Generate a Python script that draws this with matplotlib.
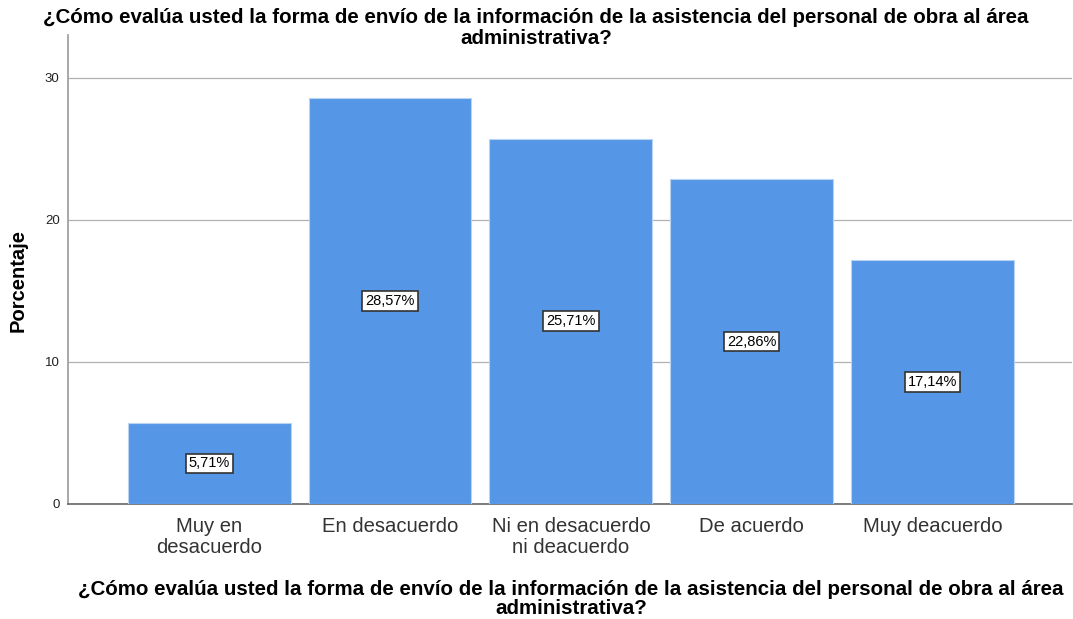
import matplotlib
matplotlib.use("Agg")
import matplotlib.pyplot as plt

categorias = ["Muy en\ndesacuerdo", "En desacuerdo", "Ni en desacuerdo\nni deacuerdo",
              "De acuerdo", "Muy deacuerdo"]
porcentajes = [5.71, 28.57, 25.71, 22.86, 17.14]
etiquetas = ["5,71%", "28,57%", "25,71%", "22,86%", "17,14%"]
y_ticks = [0, 10, 20, 30]

titulo = ("¿Cómo evalúa usted la forma de envío de la información de la asistencia "
          "del personal de obra al área\nadministrativa?")

plt.rcParams['font.family'] = ['Liberation Sans', 'DejaVu Sans']

fig = plt.figure(figsize=(10.73, 6.19), dpi=100)
ax = fig.add_axes([68 / 1073, 1 - 504 / 619, 1004 / 1073, (504 - 35) / 619])

x = range(len(categorias))
ax.bar(x, porcentajes, width=0.9, color="#5596e6", edgecolor="#b9d3f3", linewidth=0.8, zorder=3)

for xi, v, lab in zip(x, porcentajes, etiquetas):
    ax.text(xi, v / 2, lab, ha="center", va="center", fontsize=10.5, color="black", zorder=4,
            bbox=dict(boxstyle="square,pad=0.2", facecolor="white", edgecolor="#333333", linewidth=1.2))

ax.set_xlim(-0.78, 4.77)
ax.set_ylim(0, 33)
ax.set_yticks(y_ticks)
ax.set_yticklabels([str(t) for t in y_ticks], fontsize=9.5, color="#222222")
ax.set_xticks(list(x))
ax.set_xticklabels(categorias, fontsize=14.6, color="#333333", linespacing=1.15)
ax.tick_params(axis="x", length=0, pad=9)
ax.tick_params(axis="y", length=0, pad=6)

ax.yaxis.grid(True, color="#b0b0b0", linewidth=0.9, zorder=0)
ax.spines["top"].set_visible(False)
ax.spines["right"].set_visible(False)
ax.spines["left"].set_color("#999999")
ax.spines["left"].set_linewidth(1.2)
ax.spines["bottom"].set_color("#666666")
ax.spines["bottom"].set_linewidth(1.2)

fig.text(536 / 1073, 1 - 28 / 619, titulo, ha="center", va="center", fontsize=14.8, fontweight="bold",
         linespacing=1.08)
fig.text(571 / 1073, 1 - 599 / 619, titulo, ha="center", va="center", fontsize=14.8,
         fontweight="bold", linespacing=0.95)
fig.text(18 / 1073, 1 - 280 / 619, "Porcentaje", rotation=90, ha="center", va="center",
         fontsize=14.5, fontweight="bold")

fig.savefig("out.png", dpi=100)
